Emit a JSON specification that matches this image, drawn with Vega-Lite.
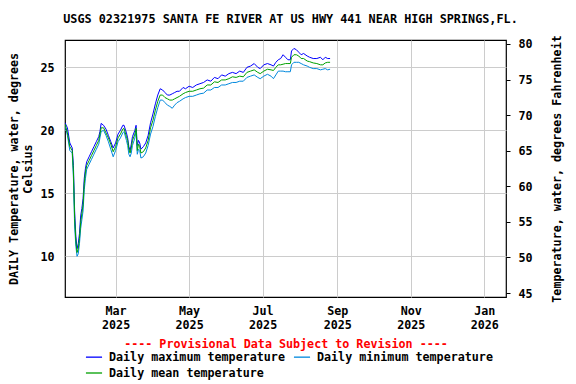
{
  "$schema": "https://vega.github.io/schema/vega-lite/v6.json",
  "width": 441,
  "height": 257,
  "autosize": {"type": "none"},
  "padding": {"left": 65, "top": 40, "right": 70, "bottom": 87},
  "background": "white",
  "title": {
    "text": "USGS 02321975 SANTA FE RIVER AT US HWY 441 NEAR HIGH SPRINGS,FL.",
    "font": "DejaVu Sans Mono",
    "fontSize": 11.8,
    "fontWeight": "bold",
    "color": "black",
    "anchor": "middle",
    "frame": "group",
    "offset": 9,
    "dx": 5
  },
  "config": {
    "view": {"stroke": "black", "strokeWidth": 1.2},
    "axis": {
      "labelFont": "DejaVu Sans Mono",
      "labelFontSize": 11.7,
      "labelFontWeight": "bold",
      "labelColor": "black",
      "titleFont": "DejaVu Sans Mono",
      "titleFontSize": 11.7,
      "titleFontWeight": "bold",
      "titleColor": "black",
      "gridColor": "#cccccc",
      "gridWidth": 1,
      "domain": false
    }
  },
  "layer": [
    {
      "data": {
        "values": [
          {"date": "2025-01-18", "hi": 20.6, "mid": 20.5, "lo": 20.4},
          {"date": "2025-01-20", "hi": 20.2, "mid": 19.8, "lo": 19.6},
          {"date": "2025-01-22", "hi": 19.0, "mid": 18.7, "lo": 18.4},
          {"date": "2025-01-24", "hi": 18.6, "mid": 18.4, "lo": 18.2},
          {"date": "2025-01-25", "hi": 17.2, "mid": 16.7, "lo": 16.2},
          {"date": "2025-01-26", "hi": 13.6, "mid": 13.0, "lo": 12.4},
          {"date": "2025-01-27", "hi": 11.6, "mid": 11.2, "lo": 10.8},
          {"date": "2025-01-28", "hi": 10.6, "mid": 10.3, "lo": 10.0},
          {"date": "2025-01-29", "hi": 11.0, "mid": 10.6, "lo": 10.2},
          {"date": "2025-01-30", "hi": 11.8, "mid": 11.4, "lo": 11.0},
          {"date": "2025-01-31", "hi": 13.2, "mid": 12.7, "lo": 12.2},
          {"date": "2025-02-01", "hi": 13.8, "mid": 13.4, "lo": 12.9},
          {"date": "2025-02-02", "hi": 14.6, "mid": 14.1, "lo": 13.6},
          {"date": "2025-02-03", "hi": 16.2, "mid": 15.8, "lo": 15.3},
          {"date": "2025-02-04", "hi": 17.0, "mid": 16.7, "lo": 16.2},
          {"date": "2025-02-05", "hi": 17.5, "mid": 17.2, "lo": 16.9},
          {"date": "2025-02-07", "hi": 17.9, "mid": 17.6, "lo": 17.3},
          {"date": "2025-02-09", "hi": 18.3, "mid": 18.0, "lo": 17.7},
          {"date": "2025-02-11", "hi": 18.7, "mid": 18.4, "lo": 18.1},
          {"date": "2025-02-13", "hi": 19.1, "mid": 18.8, "lo": 18.5},
          {"date": "2025-02-15", "hi": 19.5, "mid": 19.2, "lo": 18.9},
          {"date": "2025-02-16", "hi": 19.9, "mid": 19.7, "lo": 19.4},
          {"date": "2025-02-17", "hi": 20.55, "mid": 20.2, "lo": 19.9},
          {"date": "2025-02-19", "hi": 20.4, "mid": 20.2, "lo": 20.0},
          {"date": "2025-02-21", "hi": 20.1, "mid": 19.8, "lo": 19.6},
          {"date": "2025-02-23", "hi": 19.6, "mid": 19.4, "lo": 19.1},
          {"date": "2025-02-25", "hi": 19.1, "mid": 18.9, "lo": 18.5},
          {"date": "2025-02-27", "hi": 18.6, "mid": 18.3, "lo": 17.9},
          {"date": "2025-03-01", "hi": 19.0, "mid": 18.7, "lo": 18.4},
          {"date": "2025-03-03", "hi": 19.7, "mid": 19.4, "lo": 19.1},
          {"date": "2025-03-05", "hi": 20.0, "mid": 19.7, "lo": 19.4},
          {"date": "2025-03-07", "hi": 20.4, "mid": 20.1, "lo": 19.8},
          {"date": "2025-03-08", "hi": 20.4, "mid": 20.15, "lo": 19.9},
          {"date": "2025-03-10", "hi": 19.8, "mid": 19.5, "lo": 19.2},
          {"date": "2025-03-11", "hi": 19.4, "mid": 19.2, "lo": 18.8},
          {"date": "2025-03-12", "hi": 18.7, "mid": 18.5, "lo": 18.1},
          {"date": "2025-03-13", "hi": 18.4, "mid": 18.2, "lo": 17.9},
          {"date": "2025-03-14", "hi": 18.9, "mid": 18.6, "lo": 18.2},
          {"date": "2025-03-15", "hi": 19.5, "mid": 19.2, "lo": 18.8},
          {"date": "2025-03-17", "hi": 20.0, "mid": 19.7, "lo": 19.4},
          {"date": "2025-03-18", "hi": 20.4, "mid": 20.15, "lo": 19.9},
          {"date": "2025-03-19", "hi": 18.8, "mid": 18.4, "lo": 18.1},
          {"date": "2025-03-20", "hi": 19.2, "mid": 18.9, "lo": 18.5},
          {"date": "2025-03-21", "hi": 19.0, "mid": 18.7, "lo": 18.4},
          {"date": "2025-03-22", "hi": 18.5, "mid": 18.2, "lo": 17.8},
          {"date": "2025-03-24", "hi": 18.7, "mid": 18.3, "lo": 17.9},
          {"date": "2025-03-26", "hi": 19.0, "mid": 18.6, "lo": 18.2},
          {"date": "2025-03-28", "hi": 19.6, "mid": 19.2, "lo": 18.8},
          {"date": "2025-03-30", "hi": 20.6, "mid": 20.2, "lo": 19.7},
          {"date": "2025-04-01", "hi": 21.3, "mid": 20.8, "lo": 20.3},
          {"date": "2025-04-03", "hi": 22.1, "mid": 21.6, "lo": 21.1},
          {"date": "2025-04-05", "hi": 22.8, "mid": 22.3, "lo": 21.8},
          {"date": "2025-04-07", "hi": 23.3, "mid": 22.8, "lo": 22.4},
          {"date": "2025-04-09", "hi": 23.2, "mid": 22.8, "lo": 22.4},
          {"date": "2025-04-11", "hi": 23.0, "mid": 22.6, "lo": 22.2},
          {"date": "2025-04-13", "hi": 22.8, "mid": 22.5, "lo": 22.0},
          {"date": "2025-04-15", "hi": 22.8, "mid": 22.4, "lo": 21.9},
          {"date": "2025-04-17", "hi": 22.9, "mid": 22.4, "lo": 21.75},
          {"date": "2025-04-19", "hi": 23.0, "mid": 22.5, "lo": 22.0},
          {"date": "2025-04-21", "hi": 23.1, "mid": 22.6, "lo": 22.2},
          {"date": "2025-04-23", "hi": 23.1, "mid": 22.7, "lo": 22.3},
          {"date": "2025-04-26", "hi": 23.4, "mid": 22.9, "lo": 22.5},
          {"date": "2025-04-28", "hi": 23.3, "mid": 23.0, "lo": 22.6},
          {"date": "2025-05-01", "hi": 23.5, "mid": 23.1, "lo": 22.7},
          {"date": "2025-05-04", "hi": 23.4, "mid": 23.1, "lo": 22.7},
          {"date": "2025-05-07", "hi": 23.6, "mid": 23.2, "lo": 22.8},
          {"date": "2025-05-10", "hi": 23.7, "mid": 23.3, "lo": 22.9},
          {"date": "2025-05-13", "hi": 23.8, "mid": 23.35, "lo": 22.95},
          {"date": "2025-05-16", "hi": 24.0, "mid": 23.6, "lo": 23.2},
          {"date": "2025-05-19", "hi": 23.9, "mid": 23.6, "lo": 23.2},
          {"date": "2025-05-22", "hi": 24.2, "mid": 23.85, "lo": 23.4},
          {"date": "2025-05-25", "hi": 24.1, "mid": 23.8, "lo": 23.4},
          {"date": "2025-05-28", "hi": 24.4, "mid": 24.0, "lo": 23.6},
          {"date": "2025-05-31", "hi": 24.3, "mid": 24.0, "lo": 23.6},
          {"date": "2025-06-03", "hi": 24.5, "mid": 24.1, "lo": 23.7},
          {"date": "2025-06-06", "hi": 24.6, "mid": 24.25, "lo": 23.8},
          {"date": "2025-06-09", "hi": 24.5, "mid": 24.2, "lo": 23.8},
          {"date": "2025-06-12", "hi": 24.7, "mid": 24.3, "lo": 23.9},
          {"date": "2025-06-15", "hi": 24.6, "mid": 24.25, "lo": 23.9},
          {"date": "2025-06-18", "hi": 25.0, "mid": 24.6, "lo": 24.2},
          {"date": "2025-06-21", "hi": 25.1, "mid": 24.7, "lo": 24.3},
          {"date": "2025-06-24", "hi": 25.3, "mid": 24.8, "lo": 24.4},
          {"date": "2025-06-27", "hi": 25.0, "mid": 24.6, "lo": 24.2},
          {"date": "2025-06-29", "hi": 24.9, "mid": 24.5, "lo": 24.1},
          {"date": "2025-07-02", "hi": 25.2, "mid": 24.7, "lo": 24.3},
          {"date": "2025-07-05", "hi": 25.3, "mid": 24.85, "lo": 24.45},
          {"date": "2025-07-08", "hi": 25.2, "mid": 24.8, "lo": 24.3},
          {"date": "2025-07-10", "hi": 25.1, "mid": 24.75, "lo": 24.1},
          {"date": "2025-07-12", "hi": 25.4, "mid": 25.0, "lo": 24.4},
          {"date": "2025-07-14", "hi": 25.6, "mid": 25.2, "lo": 24.7},
          {"date": "2025-07-16", "hi": 25.7, "mid": 25.2, "lo": 24.7},
          {"date": "2025-07-18", "hi": 26.0, "mid": 25.25, "lo": 24.7},
          {"date": "2025-07-20", "hi": 25.8, "mid": 25.3, "lo": 24.65},
          {"date": "2025-07-22", "hi": 25.6, "mid": 25.3, "lo": 24.65},
          {"date": "2025-07-24", "hi": 25.6, "mid": 25.3, "lo": 24.65},
          {"date": "2025-07-25", "hi": 26.3, "mid": 25.8, "lo": 25.2},
          {"date": "2025-07-27", "hi": 26.5, "mid": 26.0, "lo": 25.4},
          {"date": "2025-07-29", "hi": 26.4, "mid": 26.0, "lo": 25.4},
          {"date": "2025-07-31", "hi": 26.2, "mid": 25.9, "lo": 25.4},
          {"date": "2025-08-02", "hi": 26.0, "mid": 25.7, "lo": 25.3},
          {"date": "2025-08-04", "hi": 26.1, "mid": 25.7, "lo": 25.2},
          {"date": "2025-08-07", "hi": 25.9, "mid": 25.5, "lo": 25.1},
          {"date": "2025-08-09", "hi": 25.8, "mid": 25.45, "lo": 25.0},
          {"date": "2025-08-12", "hi": 25.7, "mid": 25.35, "lo": 24.9},
          {"date": "2025-08-15", "hi": 25.7, "mid": 25.3, "lo": 24.9},
          {"date": "2025-08-18", "hi": 25.8, "mid": 25.2, "lo": 24.8},
          {"date": "2025-08-20", "hi": 25.6, "mid": 25.2, "lo": 24.85},
          {"date": "2025-08-22", "hi": 25.8, "mid": 25.35, "lo": 24.9},
          {"date": "2025-08-24", "hi": 25.7, "mid": 25.4, "lo": 24.8},
          {"date": "2025-08-26", "hi": 25.7, "mid": 25.4, "lo": 24.85}
        ]
      },
      "transform": [
        {"fold": ["hi", "lo", "mid"], "as": ["series", "value"]}
      ],
      "mark": {"type": "line", "strokeWidth": 1, "clip": true},
      "encoding": {
        "x": {
          "field": "date",
          "type": "temporal",
          "scale": {
            "type": "utc",
            "domain": [
              {"year": 2025, "month": 1, "date": 18, "utc": true},
              {"year": 2026, "month": 1, "date": 19, "utc": true}
            ]
          },
          "axis": {
            "values": [
              {"year": 2025, "month": 3, "date": 1, "utc": true},
              {"year": 2025, "month": 5, "date": 1, "utc": true},
              {"year": 2025, "month": 7, "date": 1, "utc": true},
              {"year": 2025, "month": 9, "date": 1, "utc": true},
              {"year": 2025, "month": 11, "date": 1, "utc": true},
              {"year": 2026, "month": 1, "date": 1, "utc": true}
            ],
            "labelExpr": "[utcFormat(datum.value, '%b'), utcFormat(datum.value, '%Y')]",
            "labelLineHeight": 14,
            "labelPadding": 8,
            "ticks": false,
            "grid": true,
            "title": "---- Provisional Data Subject to Revision ----",
            "titleColor": "#ff0000",
            "titlePadding": 8
          }
        },
        "y": {
          "field": "value",
          "type": "quantitative",
          "scale": {"domain": [6.77, 27.17], "zero": false, "nice": false},
          "axis": {
            "values": [10, 15, 20, 25],
            "grid": true,
            "ticks": false,
            "labelPadding": 11,
            "title": ["DAILY Temperature, water, degrees", "Celsius"],
            "titlePadding": 6,
            "titleLineHeight": 14
          }
        },
        "color": {
          "field": "series",
          "type": "nominal",
          "scale": {"domain": ["hi", "mid", "lo"], "range": ["#0000ff", "#00a000", "#0088dd"]},
          "legend": {
            "orient": "none",
            "legendX": 20,
            "legendY": 308,
            "columns": 2,
            "columnPadding": 6,
            "rowPadding": 0,
            "title": null,
            "symbolType": "stroke",
            "symbolSize": 260,
            "symbolStrokeWidth": 1.3,
            "labelFont": "DejaVu Sans Mono",
            "labelFontSize": 11.7,
            "labelFontWeight": "bold",
            "labelColor": "black",
            "labelOffset": 6,
            "labelLimit": 400,
            "labelExpr": "datum.label == 'hi' ? 'Daily maximum temperature' : datum.label == 'lo' ? 'Daily minimum temperature' : 'Daily mean temperature'"
          }
        }
      }
    },
    {
      "data": {"values": [{"f": 60}]},
      "mark": {"type": "rule", "opacity": 0},
      "encoding": {
        "y": {
          "field": "f",
          "type": "quantitative",
          "scale": {"domain": [44.44, 80.56], "zero": false, "nice": false},
          "axis": {
            "orient": "right",
            "values": [45, 50, 55, 60, 65, 70, 75, 80],
            "grid": false,
            "ticks": true,
            "tickSize": 4,
            "tickColor": "black",
            "labelPadding": 8,
            "title": "Temperature, water, degrees Fahrenheit",
            "titleAngle": 270,
            "titlePadding": 30
          }
        }
      }
    }
  ],
  "resolve": {"scale": {"y": "independent"}, "axis": {"y": "independent"}}
}
